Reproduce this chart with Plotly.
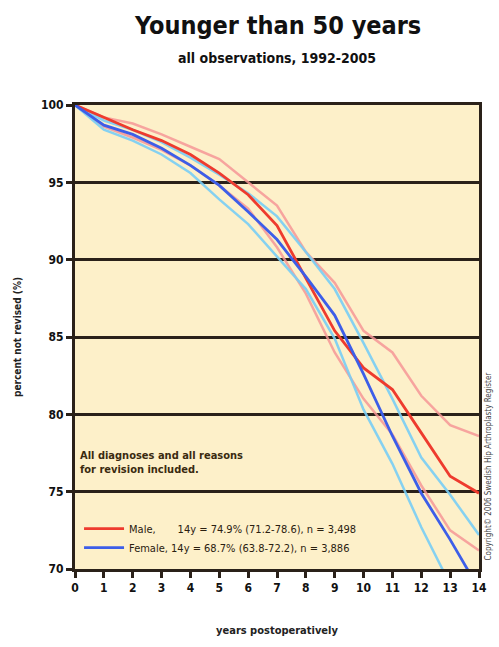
import plotly.graph_objects as go

years = list(range(0, 15))
male = [100, 99.2, 98.4, 97.7, 96.8, 95.6, 94.2, 92.2, 88.8, 85.4, 83.0, 81.6, 78.8, 76.0, 74.9]
male_lo = [100, 98.6, 97.9, 97.1, 96.1, 94.8, 93.3, 90.8, 87.8, 84.0, 81.0, 78.7, 75.4, 72.5, 71.2]
male_hi = [100, 99.2, 98.8, 98.1, 97.3, 96.5, 95.0, 93.5, 90.5, 88.5, 85.4, 84.0, 81.2, 79.3, 78.6]
female = [100, 98.7, 98.1, 97.2, 96.1, 94.8, 93.1, 91.3, 88.9, 86.4, 82.6, 78.6, 74.9, 71.9, 68.7]
female_lo = [100, 98.4, 97.7, 96.8, 95.6, 93.9, 92.3, 90.2, 88.1, 84.9, 80.3, 76.8, 72.7, 69.0, 63.8]
female_hi = [100, 99.0, 98.4, 97.6, 96.6, 95.5, 94.3, 92.8, 90.5, 88.1, 84.6, 81.0, 77.2, 74.8, 72.2]
y_ticks = [70, 75, 80, 85, 90, 95, 100]
y_tick_text = ["70", "75", "80", "85", "90", "95", "100"]
male_label = "Male,\u00a0\u00a0\u00a0\u00a0\u00a0\u00a0 14y = 74.9% (71.2-78.6), n = 3,498"
female_label = "Female, 14y = 68.7% (63.8-72.2), n = 3,886"

FONT = "DejaVu Sans Condensed, Liberation Sans Narrow, Arial Narrow, DejaVu Sans, sans-serif"
DARK = "#2a2119"

fig = go.Figure()
ci_pink = "rgba(246,150,150,0.85)"
ci_cyan = "rgba(120,205,245,0.9)"
fig.add_trace(go.Scatter(x=years, y=male_hi, mode="lines", line=dict(color=ci_pink, width=2.5), showlegend=False))
fig.add_trace(go.Scatter(x=years, y=male_lo, mode="lines", line=dict(color=ci_pink, width=2.5), showlegend=False))
fig.add_trace(go.Scatter(x=years, y=female_hi, mode="lines", line=dict(color=ci_cyan, width=2.5), showlegend=False))
fig.add_trace(go.Scatter(x=years, y=female_lo, mode="lines", line=dict(color=ci_cyan, width=2.5), showlegend=False))
fig.add_trace(go.Scatter(x=years, y=male, mode="lines", name=male_label, line=dict(color="#ee3b2e", width=2.8)))
fig.add_trace(go.Scatter(x=years, y=female, mode="lines", name=female_label, line=dict(color="#3d5ee8", width=2.8)))

fig.update_layout(
    width=499, height=647,
    margin=dict(l=75, r=17, t=105, b=71),
    paper_bgcolor="white",
    plot_bgcolor="#fdf0c9",
    font=dict(family=FONT, color="#1a1a1a"),
    showlegend=True,
    legend=dict(
        x=0.01, y=0.015, xanchor="left", yanchor="bottom",
        bgcolor="rgba(0,0,0,0)", font=dict(size=11, family=FONT, color="#2a2010"),
        itemwidth=40, tracegroupgap=2,
    ),
)
fig.add_annotation(
    xref="paper", yref="paper", x=0.5, y=1.0, yshift=80, xanchor="center", yanchor="middle",
    text="<b>Younger than 50 years</b>", showarrow=False,
    font=dict(size=25, family=FONT, color="#111"),
)
fig.add_annotation(
    xref="paper", yref="paper", x=0.5, y=1.0, yshift=47, xanchor="center", yanchor="middle",
    text="<b>all observations, 1992-2005</b>", showarrow=False,
    font=dict(size=14, family=FONT, color="#111"),
)
fig.update_xaxes(
    range=[0, 14], tickmode="array", tickvals=years, ticktext=[str(v) for v in years],
    ticks="outside", ticklen=6, tickwidth=2.5, tickcolor=DARK,
    showline=True, linecolor=DARK, linewidth=3, mirror=True,
    showgrid=False, zeroline=False,
    tickfont=dict(size=12, family=FONT, color="#111", weight="bold"),
    title=dict(text="<b>years postoperatively</b>", font=dict(size=11, family=FONT, color="#222"), standoff=32),
)
fig.update_yaxes(
    range=[70, 100], tickmode="array", tickvals=y_ticks, ticktext=y_tick_text,
    ticks="outside", ticklen=6, tickwidth=2.5, tickcolor=DARK,
    showline=True, linecolor=DARK, linewidth=3, mirror=True,
    showgrid=True, gridcolor=DARK, gridwidth=2.5, zeroline=False,
    tickfont=dict(size=12, family=FONT, color="#111", weight="bold"),
    title=dict(text="<b>percent not revised (%)</b>", font=dict(size=10, family=FONT, color="#222"), standoff=18),
)
fig.add_annotation(
    xref="x", yref="y", x=0.1, y=77.9, xanchor="left", yanchor="top", align="left",
    text="<b>All diagnoses and all reasons<br>for revision included.</b>", showarrow=False,
    font=dict(size=11, family=FONT, color="#3a2a10"),
)
fig.add_annotation(
    xref="paper", yref="paper", x=1.0, y=0.22, xanchor="left", yanchor="middle", xshift=3,
    text="Copyright\u00a9 2006 Swedish Hip Arthroplasty Register", textangle=-90, showarrow=False,
    font=dict(size=8, family=FONT, color="#444"),
)
fig.write_html(
    "out.html",
    config={"displayModeBar": False},
    post_script="document.body.style.margin='0';document.body.style.overflow='hidden';document.documentElement.style.overflow='hidden';",
)
